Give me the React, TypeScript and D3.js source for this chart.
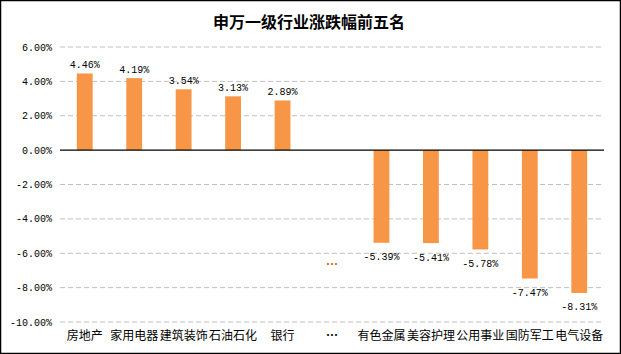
import React from "react";
import * as d3 from "d3";

const width = 621;
const height = 354;
const margin = { top: 47, right: 17, bottom: 32, left: 60 };
const plotW = width - margin.left - margin.right;
const plotH = height - margin.top - margin.bottom;

const title = "申万一级行业涨跌幅前五名";
const categories = ["房地产", "家用电器", "建筑装饰", "石油石化", "银行", "…", "有色金属", "美容护理", "公用事业", "国防军工", "电气设备"];
const values: (number | null)[] = [4.46, 4.19, 3.54, 3.13, 2.89, null, -5.39, -5.41, -5.78, -7.47, -8.31];
const yTicks = [6, 4, 2, 0, -2, -4, -6, -8, -10];
const gapLabelValue = -6.7; // where the "..." data label sits

const barColor = "#F79646";
const monoFont = "'Liberation Mono', 'DejaVu Sans Mono', monospace";
const cjkFont = "'Noto Sans CJK SC', sans-serif";

export default function App() {
  const x = d3.scaleBand<string>().domain(categories).range([0, plotW]).paddingInner(0.68).paddingOuter(0.34);
  const y = d3.scaleLinear().domain([-10, 6]).range([plotH, 0]);
  const fmt = (v: number) => v.toFixed(2) + "%";

  return (
    <svg width={width} height={height} style={{ position: "fixed", left: 0, top: 0, background: "#fff" }}>
      <rect x={0.5} y={0.5} width={width - 1} height={height - 1} fill="#fff" stroke="#000" strokeWidth={1.5} />
      <text x={309} y={28} textAnchor="middle" fontFamily={cjkFont} fontWeight="bold" fontSize={16} fill="#000">{title}</text>
      <g transform={`translate(${margin.left},${margin.top})`}>
        {yTicks.map(t => (
          <g key={t}>
            {t !== 0 && (
              <line x1={0} x2={plotW} y1={y(t)} y2={y(t)} stroke="#C0C0C0" strokeDasharray="5,3" />
            )}
            <text x={-8} y={y(t)} dy="0.35em" textAnchor="end" fontFamily={monoFont} fontSize={10} fill="#000">{fmt(t)}</text>
          </g>
        ))}
        {categories.map((c, i) => {
          const v = values[i];
          const cx = (x(c) ?? 0) + x.bandwidth() / 2;
          if (v === null) {
            return (
              <g key={c}>
                <text x={cx} y={y(gapLabelValue)} dy="0.35em" textAnchor="middle" fontFamily={cjkFont} fontWeight="bold" fontSize={12} fill="#C55A11">…</text>
              </g>
            );
          }
          const top = Math.min(y(v), y(0));
          const h = Math.abs(y(v) - y(0));
          return (
            <g key={c}>
              <rect x={x(c)} y={top} width={x.bandwidth()} height={h} fill={barColor} />
              <text x={cx} y={v >= 0 ? y(v) - 9 : y(v) + 14} dy="0.35em" textAnchor="middle" fontFamily={monoFont} fontSize={10} fill="#000">{fmt(v)}</text>
            </g>
          );
        })}
        <line x1={0} x2={plotW} y1={y(0)} y2={y(0)} stroke="#000" strokeWidth={1.2} />
        {categories.map(c => (
          <text key={c} x={(x(c) ?? 0) + x.bandwidth() / 2} y={plotH + 14} dy="0.35em" textAnchor="middle" fontFamily={cjkFont} fontWeight={c === "…" ? "bold" : "normal"} fontSize={12} fill="#000">{c}</text>
        ))}
      </g>
    </svg>
  );
}
